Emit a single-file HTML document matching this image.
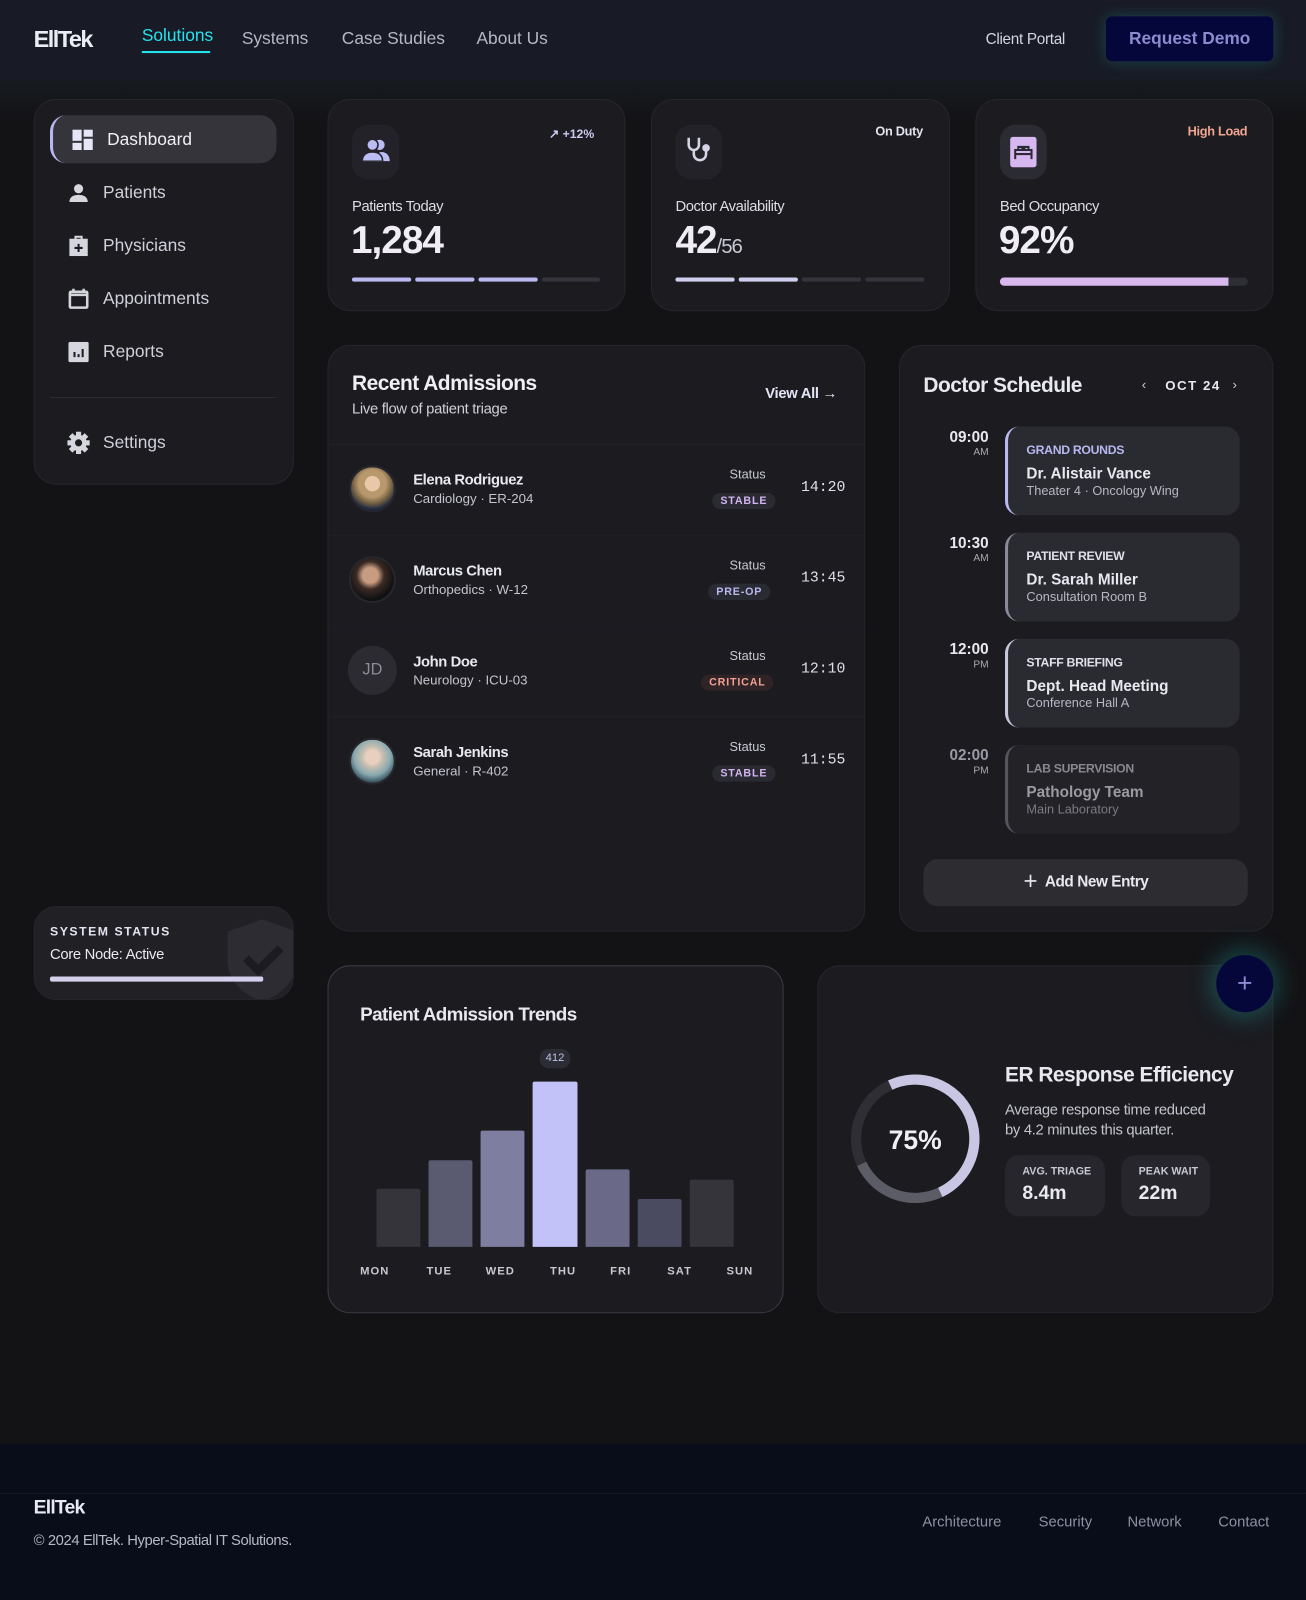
<!DOCTYPE html>
<html><head><meta charset="utf-8">
<style>
*{box-sizing:border-box;margin:0;padding:0}
html,body{width:1306px;height:1600px;overflow:hidden;background:#131316}
#w{position:absolute;left:0;top:0;width:1280px;height:1568px;transform:scale(1.02031,1.0204);transform-origin:0 0;font-family:"Liberation Sans",sans-serif;color:#e8e8ef;background:#131316}
.a{position:absolute}
.card{position:absolute;background:#1b1b20;border:1px solid #25252b;border-radius:22px}
.t{position:absolute;white-space:nowrap}
.bar{position:absolute;height:4px;border-radius:2px}
.ib{position:absolute;width:46px;height:54px;border-radius:16px;background:#222228}
.badge{position:absolute;height:16px;border-radius:8px;background:#2a2a33;font-size:10.5px;font-weight:bold;letter-spacing:0.8px;line-height:16px;padding:0 8px}
.sched{position:absolute;left:985px;width:230px;height:87px;background:#2a2a31;border-radius:14px;border-left:3px solid #8a8a98}
.sched .k{position:absolute;left:18px;top:16px;font-size:12px;font-weight:bold;letter-spacing:-0.3px}
.sched .n{position:absolute;left:18px;top:38px;font-size:15px;font-weight:bold}
.sched .s{position:absolute;left:18px;top:56px;font-size:12.5px;color:#b8b8c4}
.tm{position:absolute;width:60px;left:909px;text-align:right;font-weight:bold;font-size:15px}
.tm small{display:block;font-size:10px;font-weight:normal;color:#aaa;margin-top:1px}
.b{position:absolute;bottom:346px;border-radius:2px 2px 0 0}
.dl{position:absolute;top:1240px;font-size:11px;font-weight:bold;letter-spacing:1px;color:#c8c8d2}
</style></head><body><div id="w">
<div class="a" style="left:0;top:0;width:1280px;height:78px;background:#181b26"></div>
<div class="a" style="left:0;top:78px;width:1280px;height:40px;background:linear-gradient(#171b1f,#131316)"></div>
<div class="t" style="left:33px;top:25px;font-size:23px;font-weight:bold;letter-spacing:-1.5px;color:#ececf6">EllTek</div>
<div class="t" style="left:139px;top:25px;font-size:17px;color:#25e3ee">Solutions</div>
<div class="a" style="left:139px;top:50px;width:67px;height:2px;background:#25e3ee"></div>
<div class="t" style="left:237px;top:28px;font-size:17px;color:#b5b7c6">Systems</div>
<div class="t" style="left:335px;top:28px;font-size:17px;color:#b5b7c6">Case Studies</div>
<div class="t" style="left:467px;top:28px;font-size:17px;color:#b5b7c6">About Us</div>
<div class="t" style="left:966px;top:30px;font-size:15px;color:#d4d5e0;letter-spacing:-0.3px">Client Portal</div>
<div class="a" style="left:1084px;top:16px;width:164px;height:44px;background:#05063a;border-radius:6px;box-shadow:0 0 14px rgba(40,200,200,.25);color:#8a8cd0;font-size:17px;font-weight:bold;text-align:center;line-height:44px">Request Demo</div>

<!-- sidebar -->
<div class="card" style="left:33px;top:97px;width:255px;height:378px"></div>
<div class="a" style="left:49px;top:113px;width:222px;height:47px;background:#34343a;border-radius:16px;border-left:3px solid #b7b8f0"></div>
<svg class="a" style="left:71px;top:127px" width="20" height="20" viewBox="0 0 20 20" fill="#e6e6f8"><rect x="0" y="0" width="9" height="11"/><rect x="11" y="0" width="9" height="7"/><rect x="0" y="13" width="9" height="7"/><rect x="11" y="9" width="9" height="11"/></svg>
<div class="t" style="left:105px;top:127px;font-size:17px;color:#f0f0f5">Dashboard</div>
<svg class="a" style="left:67px;top:180px" width="20" height="18" viewBox="0 0 20 18" fill="#d6d6de"><circle cx="10" cy="5" r="4.5"/><path d="M1 18c0-5 4-7 9-7s9 2 9 7z"/></svg>
<div class="t" style="left:101px;top:179px;font-size:17px;color:#d0d0da">Patients</div>
<svg class="a" style="left:67px;top:230px" width="20" height="21" viewBox="0 0 20 21" fill="#d6d6de"><path d="M6 4V1h8v3h5v17H1V4zM8 3v1h4V3z"/><path d="M9 9h2v3h3v2h-3v3H9v-3H6v-2h3z" fill="#1b1b20"/></svg>
<div class="t" style="left:101px;top:231px;font-size:17px;color:#d0d0da">Physicians</div>
<svg class="a" style="left:67px;top:282px" width="20" height="21" viewBox="0 0 20 21" fill="none" stroke="#d6d6de" stroke-width="2.5"><rect x="1.5" y="4" width="17" height="15.5" rx="1"/><path d="M5 1v4M15 1v4M2 7h16"/></svg>
<div class="t" style="left:101px;top:283px;font-size:17px;color:#d0d0da">Appointments</div>
<svg class="a" style="left:67px;top:335px" width="20" height="20" viewBox="0 0 20 20"><rect width="20" height="20" rx="2" fill="#d6d6de"/><path d="M6 10v5M10 12v3M14 7v8" stroke="#1b1b20" stroke-width="2"/></svg>
<div class="t" style="left:101px;top:335px;font-size:17px;color:#d0d0da">Reports</div>
<div class="a" style="left:49px;top:389px;width:222px;height:1px;background:#2c2c33"></div>
<svg class="a" style="left:66px;top:423px" width="22" height="22" viewBox="0 0 22 22"><g fill="#d6d6de"><circle cx="11" cy="11" r="8"/><g transform="translate(11 11)"><rect x="-2.5" y="-11" width="5" height="22"/><rect x="-2.5" y="-11" width="5" height="22" transform="rotate(45)"/><rect x="-2.5" y="-11" width="5" height="22" transform="rotate(90)"/><rect x="-2.5" y="-11" width="5" height="22" transform="rotate(135)"/></g></g><circle cx="11" cy="11" r="3.5" fill="#1b1b20"/></svg>
<div class="t" style="left:101px;top:424px;font-size:17px;color:#d0d0da">Settings</div>

<!-- system status -->
<div class="card" style="left:33px;top:888px;width:255px;height:92px;background:#202025;overflow:hidden">
<svg class="a" style="left:189px;top:12px" width="68" height="80" viewBox="0 0 68 80"><path d="M34 0L68 12v28c0 20-16 35-34 40C16 75 0 60 0 40V12z" fill="#2c2c32"/><path d="M18 38l12 12 22-22" stroke="#1b1b20" stroke-width="8" fill="none"/></svg>
</div>
<div class="t" style="left:49px;top:906px;font-size:12px;font-weight:bold;letter-spacing:1.5px;color:#e4e4f0">SYSTEM STATUS</div>
<div class="t" style="left:49px;top:928px;font-size:14.5px;color:#e8e8ef;letter-spacing:-0.3px">Core Node: Active</div>
<div class="bar" style="left:49px;top:957px;width:209px;height:5px;background:#d4d0ec"></div>

<!-- stat cards -->
<div class="card" style="left:321px;top:97px;width:292px;height:208px"></div>
<div class="ib" style="left:345px;top:122px"></div>
<svg class="a" style="left:355px;top:136px" width="28" height="22" viewBox="0 0 28 22" fill="#bcbcf4"><circle cx="17" cy="6" r="5"/><path d="M13 22c0-6 3-9 6-9s8 2 8 9z"/><circle cx="10" cy="6" r="5.5" stroke="#222228" stroke-width="1.5"/><path d="M0 22c0-6 4-9 10-9s10 3 10 9z" stroke="#222228" stroke-width="1.5"/></svg>
<div class="t" style="left:538px;top:124px;font-size:12px;font-weight:bold;color:#c9c9ef">↗ +12%</div>
<div class="t" style="left:345px;top:195px;font-size:14.5px;color:#dcdce4;letter-spacing:-0.4px">Patients Today</div>
<div class="t" style="left:344px;top:215px;font-size:38px;font-weight:bold;color:#f0eef4;letter-spacing:-1px">1,284</div>
<div class="bar" style="left:345px;top:272px;width:58px;background:#babaf0"></div>
<div class="bar" style="left:407px;top:272px;width:58px;background:#babaf0"></div>
<div class="bar" style="left:469px;top:272px;width:58px;background:#babaf0"></div>
<div class="bar" style="left:531px;top:272px;width:57px;background:#34343c"></div>

<div class="card" style="left:638px;top:97px;width:293px;height:208px"></div>
<div class="ib" style="left:662px;top:122px"></div>
<svg class="a" style="left:672px;top:133px" width="26" height="28" viewBox="0 0 26 28" fill="none" stroke="#d4d4e4" stroke-width="2.5"><path d="M3 2v7a5 5 0 0010 0V2"/><path d="M8 14v4a6 6 0 0012 0v-4"/><circle cx="20" cy="12" r="2.5" fill="#d4d4e4"/></svg>
<div class="t" style="left:858px;top:122px;font-size:12.5px;font-weight:bold;color:#e4e4ec;letter-spacing:-0.3px">On Duty</div>
<div class="t" style="left:662px;top:195px;font-size:14.5px;color:#dcdce4;letter-spacing:-0.4px">Doctor Availability</div>
<div class="t" style="left:662px;top:215px;font-size:38px;font-weight:bold;color:#f0eef4;letter-spacing:-1px">42<span style="font-size:20px;font-weight:normal;color:#c8c8d2">/56</span></div>
<div class="bar" style="left:662px;top:272px;width:58px;background:#d0d0ee"></div>
<div class="bar" style="left:724px;top:272px;width:58px;background:#d0d0ee"></div>
<div class="bar" style="left:786px;top:272px;width:58px;background:#34343c"></div>
<div class="bar" style="left:848px;top:272px;width:58px;background:#34343c"></div>

<div class="card" style="left:956px;top:97px;width:292px;height:208px"></div>
<div class="ib" style="left:980px;top:122px;background:#2b2b33"></div>
<svg class="a" style="left:990px;top:134px" width="26" height="30" viewBox="0 0 26 30"><rect width="26" height="30" rx="3" fill="#d7b7f0"/><path d="M5 22v-9h16v9M5 17h16M8 13v-3h4v3M14 13v-3h4v3" stroke="#2b2b33" stroke-width="2" fill="none"/></svg>
<div class="t" style="left:1164px;top:122px;font-size:12.5px;font-weight:bold;color:#f2a590;letter-spacing:-0.3px">High Load</div>
<div class="t" style="left:980px;top:195px;font-size:14.5px;color:#dcdce4;letter-spacing:-0.4px">Bed Occupancy</div>
<div class="t" style="left:979px;top:215px;font-size:38px;font-weight:bold;color:#f0eef4;letter-spacing:-1px">92%</div>
<div class="bar" style="left:980px;top:272px;width:243px;height:8px;border-radius:4px;background:#2e2e35"></div>
<div class="bar" style="left:980px;top:272px;width:224px;height:8px;border-radius:4px 0 0 4px;background:#d9b8ee"></div>

<!-- recent admissions -->
<div class="card" style="left:321px;top:338px;width:527px;height:575px"></div>
<div class="t" style="left:345px;top:364px;font-size:20.5px;font-weight:bold;letter-spacing:-0.5px;color:#f0f0f4">Recent Admissions</div>
<div class="t" style="left:345px;top:393px;font-size:14.5px;color:#cfcfd8;letter-spacing:-0.3px">Live flow of patient triage</div>
<div class="t" style="left:750px;top:378px;font-size:14.5px;font-weight:bold;color:#e4e4f4;letter-spacing:-0.3px">View All →</div>
<div class="a" style="left:322px;top:435px;width:525px;height:1px;background:#222228"></div>
<div class="a" style="left:322px;top:524px;width:525px;height:1px;background:#1f1f25"></div>
<div class="a" style="left:322px;top:613px;width:525px;height:1px;background:#1f1f25"></div>
<div class="a" style="left:322px;top:702px;width:525px;height:1px;background:#1f1f25"></div>

<div class="a" style="left:342px;top:456px;width:46px;height:46px;border-radius:50%;background:radial-gradient(circle at 50% 38%,#e8c8a8 0 22%,#b8986c 23% 40%,#6a5a40 60%,#1e2a44 75%);border:2px solid #26262c"></div>
<div class="a" style="left:342px;top:545px;width:46px;height:46px;border-radius:50%;background:radial-gradient(circle at 45% 40%,#c89c80 0 22%,#3a2a24 40%,#101012 70%);border:2px solid #26262c"></div>
<div class="a" style="left:341px;top:633px;width:48px;height:48px;border-radius:50%;background:#2b2b31;color:#8c8c96;font-size:16px;text-align:center;line-height:48px">JD</div>
<div class="a" style="left:342px;top:723px;width:46px;height:46px;border-radius:50%;background:radial-gradient(circle at 50% 40%,#e8d0c0 0 20%,#c8c0b0 30%,#88a8b0 55%,#3a5560 75%);border:2px solid #26262c"></div>

<div class="t" style="left:405px;top:463px;font-size:14.5px;font-weight:bold;letter-spacing:-0.4px">Elena Rodriguez</div>
<div class="t" style="left:405px;top:481px;font-size:13px;color:#c4c4ce">Cardiology · ER-204</div>
<div class="t" style="left:405px;top:552px;font-size:14.5px;font-weight:bold;letter-spacing:-0.4px">Marcus Chen</div>
<div class="t" style="left:405px;top:570px;font-size:13px;color:#c4c4ce">Orthopedics · W-12</div>
<div class="t" style="left:405px;top:641px;font-size:14.5px;font-weight:bold;letter-spacing:-0.4px">John Doe</div>
<div class="t" style="left:405px;top:659px;font-size:13px;color:#c4c4ce">Neurology · ICU-03</div>
<div class="t" style="left:405px;top:730px;font-size:14.5px;font-weight:bold;letter-spacing:-0.4px">Sarah Jenkins</div>
<div class="t" style="left:405px;top:748px;font-size:13px;color:#c4c4ce">General · R-402</div>

<div class="t" style="left:715px;top:458px;font-size:12.5px;color:#c8c8d2">Status</div>
<div class="badge" style="left:698px;top:483px;color:#d2b4f0">STABLE</div>
<div class="t" style="left:715px;top:547px;font-size:12.5px;color:#c8c8d2">Status</div>
<div class="badge" style="left:694px;top:572px;color:#b8b8ee">PRE-OP</div>
<div class="t" style="left:715px;top:636px;font-size:12.5px;color:#c8c8d2">Status</div>
<div class="badge" style="left:687px;top:661px;color:#f0a090;background:#2f2326">CRITICAL</div>
<div class="t" style="left:715px;top:725px;font-size:12.5px;color:#c8c8d2">Status</div>
<div class="badge" style="left:698px;top:750px;color:#d2b4f0">STABLE</div>

<div class="t" style="left:785px;top:470px;font-size:14.5px;font-family:'Liberation Mono',monospace;color:#e0e0e8">14:20</div>
<div class="t" style="left:785px;top:559px;font-size:14.5px;font-family:'Liberation Mono',monospace;color:#e0e0e8">13:45</div>
<div class="t" style="left:785px;top:648px;font-size:14.5px;font-family:'Liberation Mono',monospace;color:#e0e0e8">12:10</div>
<div class="t" style="left:785px;top:737px;font-size:14.5px;font-family:'Liberation Mono',monospace;color:#e0e0e8">11:55</div>

<!-- schedule -->
<div class="card" style="left:881px;top:338px;width:367px;height:575px"></div>
<div class="t" style="left:905px;top:366px;font-size:20.5px;font-weight:bold;letter-spacing:-0.5px">Doctor Schedule</div>
<div class="t" style="left:1119px;top:369px;font-size:13px;color:#ccc">‹</div>
<div class="t" style="left:1142px;top:370px;font-size:13px;font-weight:bold;letter-spacing:1.5px">OCT 24</div>
<div class="t" style="left:1208px;top:369px;font-size:13px;color:#ccc">›</div>

<div class="tm" style="top:420px">09:00<small>AM</small></div>
<div class="sched" style="top:418px;border-left-color:#b8b8f2"><div class="k" style="color:#b8b8f0">GRAND ROUNDS</div><div class="n">Dr. Alistair Vance</div><div class="s">Theater 4 · Oncology Wing</div></div>
<div class="tm" style="top:524px">10:30<small>AM</small></div>
<div class="sched" style="top:522px"><div class="k" style="color:#e0e0ea">PATIENT REVIEW</div><div class="n">Dr. Sarah Miller</div><div class="s">Consultation Room B</div></div>
<div class="tm" style="top:628px">12:00<small>PM</small></div>
<div class="sched" style="top:626px;border-left-color:#c8c8dc"><div class="k" style="color:#e0e0ea">STAFF BRIEFING</div><div class="n">Dept. Head Meeting</div><div class="s">Conference Hall A</div></div>
<div class="tm" style="top:732px;color:#9a9aa4">02:00<small>PM</small></div>
<div class="sched" style="top:730px;background:#222227;border-left-color:#55555d"><div class="k" style="color:#88888f">LAB SUPERVISION</div><div class="n" style="color:#9a9aa2">Pathology Team</div><div class="s" style="color:#7a7a82">Main Laboratory</div></div>
<div class="a" style="left:905px;top:842px;width:318px;height:46px;border-radius:14px;background:#2c2c31;text-align:center;line-height:46px;font-size:15px;font-weight:bold;letter-spacing:-0.4px">＋&nbsp; Add New Entry</div>

<!-- trends -->
<div class="card" style="left:321px;top:946px;width:447px;height:341px;border-color:#3a3a44"></div>
<div class="t" style="left:353px;top:983px;font-size:18.5px;font-weight:bold;letter-spacing:-0.6px">Patient Admission Trends</div>
<div class="a" style="left:529px;top:1028px;width:30px;height:19px;border-radius:9px;background:#2c2c34;font-size:11px;color:#c0c0e8;text-align:center;line-height:19px">412</div>
<div class="b" style="left:369px;width:43px;height:57px;background:#34343a"></div>
<div class="b" style="left:420px;width:43px;height:85px;background:#5a5a70"></div>
<div class="b" style="left:471px;width:43px;height:114px;background:#7e7ea0"></div>
<div class="b" style="left:522px;width:44px;height:162px;background:#c2c2f8"></div>
<div class="b" style="left:574px;width:43px;height:76px;background:#6a6a88"></div>
<div class="b" style="left:625px;width:43px;height:47px;background:#4a4a60"></div>
<div class="b" style="left:676px;width:43px;height:66px;background:#34343a"></div>
<div class="dl" style="left:353px">MON</div><div class="dl" style="left:418px">TUE</div><div class="dl" style="left:476px">WED</div><div class="dl" style="left:539px">THU</div><div class="dl" style="left:598px">FRI</div><div class="dl" style="left:654px">SAT</div><div class="dl" style="left:712px">SUN</div>

<!-- ER -->
<div class="card" style="left:801px;top:946px;width:447px;height:341px"></div>
<div class="a" style="left:1192px;top:936px;width:56px;height:56px;border-radius:50%;background:#05063a;box-shadow:0 0 22px 6px rgba(30,160,160,.35);color:#8a8cd0;font-size:26px;text-align:center;line-height:54px">+</div>
<svg class="a" style="left:831px;top:1050px" width="132" height="132" viewBox="0 0 132 132">
<circle cx="66" cy="66" r="58" fill="none" stroke="#2e2e34" stroke-width="10"/>
<circle cx="66" cy="66" r="58" fill="none" stroke="#5c5c66" stroke-width="10" stroke-dasharray="273 365" transform="rotate(-115 66 66)"/>
<circle cx="66" cy="66" r="58" fill="none" stroke="#c8c6e2" stroke-width="10" stroke-dasharray="182 365" transform="rotate(-115 66 66)"/>
<text x="66" y="76" text-anchor="middle" font-family="Liberation Sans" font-size="26" font-weight="bold" fill="#f0f0f4">75%</text>
</svg>
<div class="t" style="left:985px;top:1042px;font-size:20.5px;font-weight:bold;letter-spacing:-0.5px">ER Response Efficiency</div>
<div class="t" style="left:985px;top:1078px;font-size:14.5px;color:#c4c4ce;line-height:20px;letter-spacing:-0.3px">Average response time reduced<br>by 4.2 minutes this quarter.</div>
<div class="a" style="left:985px;top:1132px;width:98px;height:60px;border-radius:14px;background:#26262c"></div>
<div class="t" style="left:1002px;top:1142px;font-size:10.5px;font-weight:bold;color:#c8c8d2">AVG. TRIAGE</div>
<div class="t" style="left:1002px;top:1159px;font-size:19px;font-weight:bold">8.4m</div>
<div class="a" style="left:1099px;top:1132px;width:87px;height:60px;border-radius:14px;background:#26262c"></div>
<div class="t" style="left:1116px;top:1142px;font-size:10.5px;font-weight:bold;color:#c8c8d2">PEAK WAIT</div>
<div class="t" style="left:1116px;top:1159px;font-size:19px;font-weight:bold">22m</div>

<!-- footer -->
<div class="a" style="left:0;top:1415px;width:1280px;height:153px;background:#090d1a"></div>
<div class="a" style="left:0;top:1463px;width:1280px;height:1px;background:#141a28"></div>
<div class="t" style="left:33px;top:1467px;font-size:19px;font-weight:bold;letter-spacing:-0.8px;color:#eaeaf4">EllTek</div>
<div class="t" style="left:33px;top:1502px;font-size:14.5px;color:#b8b8c4;letter-spacing:-0.4px">© 2024 EllTek. Hyper-Spatial IT Solutions.</div>
<div class="t" style="left:904px;top:1484px;font-size:14.5px;color:#8e90a0">Architecture</div>
<div class="t" style="left:1018px;top:1484px;font-size:14.5px;color:#8e90a0">Security</div>
<div class="t" style="left:1105px;top:1484px;font-size:14.5px;color:#8e90a0">Network</div>
<div class="t" style="left:1194px;top:1484px;font-size:14.5px;color:#8e90a0">Contact</div>
</div></body></html>
